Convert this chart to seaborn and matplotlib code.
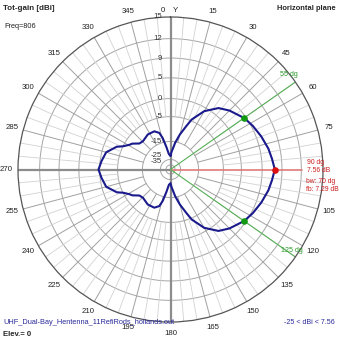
import numpy as np
import pandas as pd
import matplotlib
matplotlib.use("Agg")
import matplotlib.pyplot as plt
import seaborn as sns

# ---------------- data ----------------
angles_deg = [0, 3, 10, 15, 20, 23, 30, 38, 45, 55, 62, 70, 78, 84, 90,
              96, 102, 110, 118, 125, 135, 142, 150, 157, 160, 165, 170, 177, 180,
              186, 190.5, 194, 197, 203, 213, 224, 230, 236, 239, 244, 247, 255, 263, 270,
              277, 285, 293, 296, 301, 304, 310, 316, 327, 337, 343, 346, 349.5, 354, 360]
gain_dbi = [-23, -21, -15.4, -11.7, -7.7, -4.6, -1.0, 1.7, 3.0, 4.56, 5.3, 6.0, 6.7, 7.1, 7.56,
            7.1, 6.7, 6.0, 5.3, 4.56, 3.0, 1.7, -1.0, -4.6, -7.7, -11.7, -15.4, -21, -23,
            -22, -17.7, -13.2, -10.9, -9.6, -9.5, -10.4, -10, -7.7, -7, -5, -3.5, -1.2, -0.4, 0.27,
            -0.4, -1.2, -3.5, -5, -7, -7.7, -10, -10.4, -9.5, -9.6, -10.9, -13.2, -17.7, -22, -23]

ring_values = [15, 12, 9, 5, 0, -5, -15, -25, -35]
ring_labels = ["15", "12", "9", "5", "0", "-5", "-15", "-25", "-35"]
angle_ticks = list(range(0, 360, 15))

max_angle, max_gain = 90, 7.56
bw_angles = [55, 125]
bw_gain = 4.56
beamwidth, front_back = 70, 7.29
min_gain = -25

# --------- radial gain scale (log-like, as in the original plot) ---------
_SCALE_DB = [-35, -25, -15, -5, 0, 5, 9, 12, 15]
_SCALE_R = [0.03, 0.066, 0.184, 0.347, 0.465, 0.601, 0.731, 0.858, 1.0]


def to_r(db):
    return np.interp(db, _SCALE_DB, _SCALE_R)


W = H = 339
def px(x, y):
    return x / W, 1 - y / H

sns.set_style("white")
plt.rcParams['font.family'] = ['Liberation Sans', 'DejaVu Sans']

fig = plt.figure(figsize=(3.39, 3.39), dpi=100)
cx, cy, R = 170.5, 169.5, 152.5
ax = fig.add_axes([(cx - R) / W, (H - cy - R) / H, 2 * R / W, 2 * R / H], projection="polar")
ax.set_theta_zero_location("N")
ax.set_theta_direction(-1)
ax.set_ylim(0, 1)
ax.grid(False)
ax.set_xticks([])
ax.set_yticks([])
ax.spines["polar"].set_color("#555555")
ax.spines["polar"].set_linewidth(0.9)

full = np.linspace(0, 2 * np.pi, 361)
# rings
for v in ring_values[1:]:
    ax.plot(full, np.full_like(full, to_r(v)), color="#a6a6a6", lw=0.7, zorder=1)

# spokes
for a in range(0, 360, 5):
    t = np.deg2rad(a)
    if a % 90 == 0:
        continue
    if a % 15 == 0:
        ax.plot([t, t], [to_r(-15), 1], color="#a0a0a0", lw=0.7, zorder=1)
    else:
        ax.plot([t, t], [to_r(-5), 1], color="#d2d2d2", lw=0.6, zorder=1)

# main axes lines
for a in (0, 180, 270):
    t = np.deg2rad(a)
    ax.plot([t, t], [0, 1], color="#8c8c8c", lw=1.6, zorder=2)
ax.plot([np.deg2rad(90)] * 2, [0, 0.86], color="#e07a7a", lw=1.2, zorder=2)

# beamwidth lines
for a in bw_angles:
    t = np.deg2rad(a)
    ax.plot([t, t], [0, 1.0], color="#55b055", lw=0.8, zorder=2)

# pattern
df = pd.DataFrame({"theta": np.deg2rad(angles_deg), "r": to_r(np.array(gain_dbi))})
sns.lineplot(data=df, x="theta", y="r", sort=False, estimator=None, ax=ax,
             color="#1a1a8c", lw=1.5, zorder=4)
ax.set_xlabel("")
ax.set_ylabel("")
ax.set_ylim(0, 1)

# markers
ax.scatter([np.deg2rad(max_angle)], [to_r(max_gain)], s=14, color="#dd1111", zorder=5)
ax.scatter(np.deg2rad(bw_angles), to_r(np.array([bw_gain] * 2)), s=14, color="#119911", zorder=5)

# radial labels
offs = {"-25": 4, "-35": 3}
for v, lab in zip(ring_values, ring_labels):
    ax.annotate(lab, xy=(0, to_r(v)), xytext=(-6, offs.get(lab, 0) * 0.72),
                textcoords="offset points", ha="right", va="center",
                fontsize=5.6, color="#333333", zorder=6)

# angle labels
fs = 5.6
for a in angle_ticks:
    if a in (0, 90):
        continue
    ax.text(np.deg2rad(a), 1.075, str(a), ha="center", va="center", fontsize=fs, color="#222222")

fig.text(*px(163, 10), "0", ha="center", va="center", fontsize=fs, color="#222222")
fig.text(*px(175, 10), "Y", ha="center", va="center", fontsize=fs, color="#222222")

# titles
fig.text(*px(3, 8), "Tot-gain [dBi]", ha="left", va="center", fontsize=5.8, fontweight="bold")
fig.text(*px(4, 27), "Freq=806", ha="left", va="center", fontsize=5.3, color="#222222")
fig.text(*px(336, 8), "Horizontal plane", ha="right", va="center", fontsize=5.4, fontweight="bold")
fig.text(*px(3, 322), "UHF_Dual-Bay_Hentenna_11RefiRods_hollands.out", ha="left", va="center",
         fontsize=5.3, color="#2a2a9a")
fig.text(*px(3, 334), "Elev.= 0", ha="left", va="center", fontsize=5.6, fontweight="bold")
fig.text(*px(335, 322), f"{min_gain} < dBi < {max_gain}", ha="right", va="center",
         fontsize=5.1, color="#2a2a9a")

# red annotations
red = "#cc1f1f"
rfs = 4.9
fig.text(*px(307, 163), f"{max_angle} dg", ha="left", va="center", fontsize=rfs, color=red)
fig.text(*px(307, 171), f"{max_gain} dB", ha="left", va="center", fontsize=rfs, color=red)
fig.text(*px(306, 181.5), f"bw: {beamwidth} dg", ha="left", va="center", fontsize=rfs, color=red)
fig.text(*px(306, 189.5), f"fb: {front_back} dB", ha="left", va="center", fontsize=rfs, color=red)

green = "#2a9a2a"
fig.text(*px(288.5, 75), f"{bw_angles[0]} dg", ha="center", va="center", fontsize=5.1, color=green)
fig.text(*px(291.5, 250), f"{bw_angles[1]} dg", ha="center", va="center", fontsize=5.1, color=green)

fig.savefig("out.png", dpi=100, facecolor="white")
